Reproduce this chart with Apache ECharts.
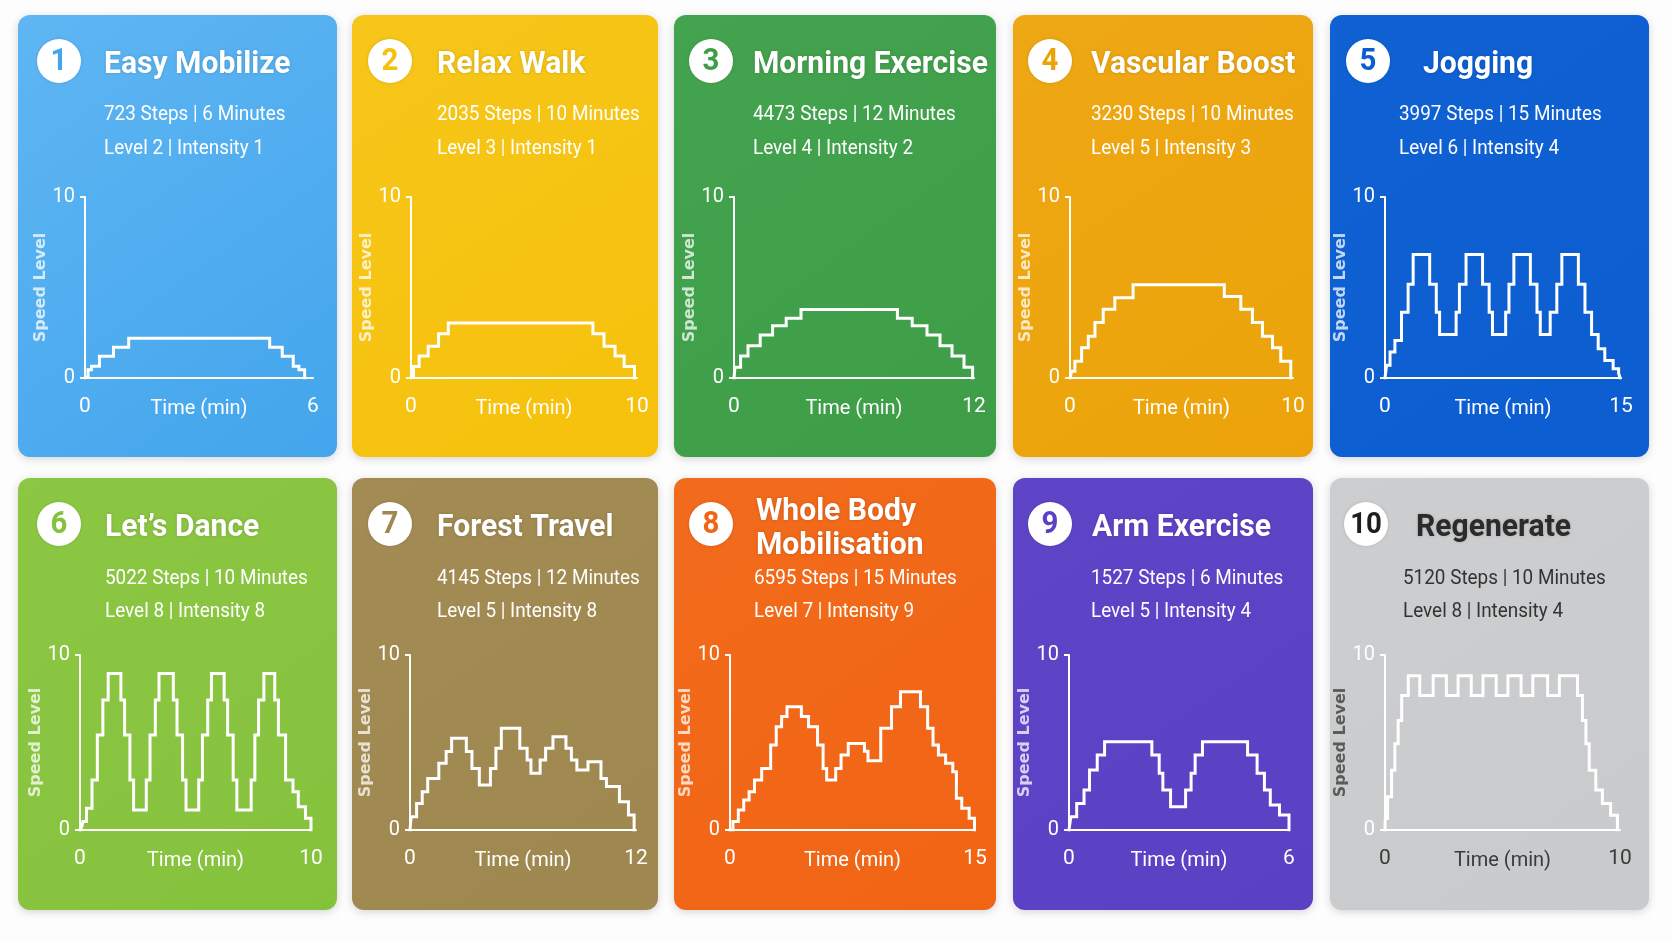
<!DOCTYPE html>
<html><head><meta charset="utf-8">
<script src="https://cdn.jsdelivr.net/npm/echarts@6/dist/echarts.min.js"></script>
<style>html,body{margin:0;padding:0;background:#fdfdfd;}#c{width:1672px;height:941px;}</style>
</head><body><div id="c"></div><script>
// ---------- data ----------
const titles = ['Easy Mobilize','Relax Walk','Morning Exercise','Vascular Boost','Jogging','Let\u2019s Dance','Forest Travel','Whole Body\nMobilisation','Arm Exercise','Regenerate'];
const stepCounts = [723, 2035, 4473, 3230, 3997, 5022, 4145, 6595, 1527, 5120];
const minutes = [6, 10, 12, 10, 15, 10, 12, 15, 6, 10];
const levels = [2, 3, 4, 5, 6, 8, 5, 7, 5, 8];
const intensities = [1, 1, 2, 3, 4, 8, 8, 9, 4, 4];
const yTicks = [0, 10];

// speed profiles: speed[i] holds from time[i] until time[i+1]
const easyMobilizeTime  = [0.02, 0.08, 0.17, 0.38, 0.75, 1.15, 4.86, 5.19, 5.48, 5.63, 5.78];
const easyMobilizeSpeed = [0.1, 0.45, 0.65, 1.2, 1.7, 2.2, 1.7, 1.2, 0.65, 0.45, 0];
const relaxWalkTime  = [0.02, 0.11, 0.36, 0.76, 1.22, 1.65, 8.05, 8.54, 9.03, 9.43, 9.89];
const relaxWalkSpeed = [0.1, 0.64, 1.22, 1.76, 2.45, 3.04, 2.45, 1.76, 1.22, 0.64, 0];
const morningTime  = [0.05, 0.33, 0.70, 1.31, 1.93, 2.61, 3.35, 8.17, 8.91, 9.65, 10.3, 10.9, 11.5, 11.93];
const morningSpeed = [0.6, 1.22, 1.78, 2.38, 2.88, 3.3, 3.78, 3.3, 2.88, 2.38, 1.78, 1.22, 0.6, 0];
const vascularTime  = [0.07, 0.22, 0.52, 0.82, 1.12, 1.49, 2.01, 2.83, 6.92, 7.66, 8.18, 8.63, 9.08, 9.45, 9.9];
const vascularSpeed = [0.37, 0.93, 1.67, 2.31, 3.06, 3.8, 4.44, 5.15, 4.5, 3.8, 3.06, 2.31, 1.67, 0.93, 0];
const joggingTime  = [0.1, 0.32, 0.63, 1.05, 1.47, 1.79, 2.84, 3.26, 3.47, 4.52, 4.73, 5.15, 6.2, 6.62, 6.83, 7.67, 7.88, 8.19, 9.24, 9.66, 9.87, 10.5, 10.92, 11.24, 12.29, 12.71, 13.13, 13.55, 13.97, 14.5, 14.85, 14.95];
const joggingSpeed = [0.7, 1.43, 2.07, 3.63, 5.18, 6.83, 5.18, 3.63, 2.4, 3.63, 5.18, 6.83, 5.18, 3.63, 2.4, 3.63, 5.18, 6.83, 5.18, 3.63, 2.4, 3.63, 5.18, 6.83, 5.18, 3.63, 2.4, 1.61, 0.97, 0.51, 0.25, 0];
const danceTime  = [0.08, 0.13, 0.28, 0.52, 0.75, 0.99, 1.22, 1.77, 1.93, 2.16, 2.32, 2.87, 3.03, 3.26, 3.42, 4.04, 4.2, 4.44, 4.59, 5.14, 5.3, 5.53, 5.69, 6.24, 6.39, 6.63, 6.79, 7.41, 7.57, 7.73, 7.96, 8.43, 8.59, 8.9, 9.22, 9.45, 9.76, 10];
const danceSpeed = [0.2, 0.48, 1.24, 2.86, 5.43, 7.43, 8.95, 7.43, 5.43, 2.86, 1.14, 2.86, 5.43, 7.43, 8.95, 7.43, 5.43, 2.86, 1.14, 2.86, 5.43, 7.43, 8.95, 7.43, 5.43, 2.86, 1.14, 2.86, 5.43, 7.43, 8.95, 7.43, 5.43, 2.86, 2.19, 1.33, 0.67, 0];
const forestTime  = [0.06, 0.35, 0.65, 0.94, 1.53, 1.92, 2.21, 2.99, 3.29, 3.68, 4.27, 4.56, 4.85, 5.83, 6.22, 6.42, 6.91, 7.2, 7.59, 8.28, 8.57, 8.86, 9.45, 10.14, 10.43, 11.12, 11.6, 11.9];
const forestSpeed = [0.76, 1.52, 2.19, 2.95, 3.81, 4.48, 5.24, 4.48, 3.52, 2.57, 3.52, 4.67, 5.81, 4.67, 4.0, 3.24, 4.0, 4.67, 5.33, 4.67, 4.0, 3.43, 3.9, 2.95, 2.48, 1.62, 0.86, 0];
const wholeBodyTime  = [0.18, 0.51, 0.84, 1.17, 1.5, 1.94, 2.49, 2.83, 3.16, 3.49, 4.37, 4.81, 5.36, 5.7, 5.92, 6.47, 6.8, 7.24, 8.23, 8.45, 9.23, 9.89, 10.44, 11.66, 12.1, 12.43, 12.76, 13.2, 13.64, 13.86, 14.19, 14.64, 14.97];
const wholeBodySpeed = [0.48, 1.14, 1.71, 2.19, 2.86, 3.52, 4.86, 5.9, 6.48, 7.05, 6.48, 5.9, 4.86, 3.52, 2.86, 3.52, 4.29, 4.95, 4.5, 3.96, 5.81, 7.05, 7.9, 7.05, 5.81, 4.86, 4.29, 3.81, 3.33, 1.81, 1.24, 0.67, 0];
const armTime  = [0.05, 0.21, 0.41, 0.56, 0.77, 0.97, 2.26, 2.46, 2.56, 2.77, 3.18, 3.33, 3.44, 3.64, 4.87, 5.13, 5.33, 5.49, 5.74, 6];
const armSpeed = [0.76, 1.52, 2.29, 3.43, 4.29, 5.05, 4.29, 3.24, 2.29, 1.33, 2.29, 3.24, 4.29, 5.05, 4.29, 3.24, 2.29, 1.43, 0.86, 0];
const regenTime  = [0.01, 0.11, 0.28, 0.42, 0.56, 0.71, 0.99, 1.48, 2.05, 2.61, 3.11, 3.67, 4.17, 4.73, 5.23, 5.79, 6.29, 6.92, 7.42, 8.19, 8.4, 8.55, 8.69, 8.97, 9.25, 9.6, 9.89];
const regenSpeed = [0.66, 1.9, 3.42, 4.93, 6.26, 7.69, 8.82, 7.69, 8.82, 7.69, 8.82, 7.69, 8.82, 7.69, 8.82, 7.69, 8.82, 7.69, 8.82, 7.69, 6.26, 4.93, 3.42, 2.28, 1.52, 0.85, 0];

const profileTimes  = [easyMobilizeTime, relaxWalkTime, morningTime, vascularTime, joggingTime, danceTime, forestTime, wholeBodyTime, armTime, regenTime];
const profileSpeeds = [easyMobilizeSpeed, relaxWalkSpeed, morningSpeed, vascularSpeed, joggingSpeed, danceSpeed, forestSpeed, wholeBodySpeed, armSpeed, regenSpeed];

// ---------- styles / layout ----------
const cardColors = ['#43a5ec','#f5c10b','#3e9e48','#eca30a','#0b5dd0','#85c23c','#9f8750','#f16414','#5a40c3','#c9cacc'];
const cardLight  = ['#5fb6f3','#f7c61a','#44a34e','#eea814','#0f61d4','#8cc744','#a38b54','#f26b1c','#5e45c7','#cdcecf'];
const cardBoxes = [[18,15,319,442],[352,15,306,442],[674,15,322,442],[1013,15,300,442],[1330,15,319,442],
                   [18,478,319,432],[352,478,306,432],[674,478,322,432],[1013,478,300,432],[1330,478,319,432]];
const circleCenters = [[59,61],[390,61],[711,61],[1050,61],[1368,61],[59,524],[390,524],[711,524],[1050,524],[1366,524]];
const titleX = [104,437,753,1091,1423,105,437,756,1092,1416];
const subX   = [104,437,753,1091,1399,105,437,754,1091,1403];
const gridBoxes = [[85,197,228,181],[411,197,226,181],[734,197,240,181],[1070,197,223,181],[1385,197,236,181],
                   [80,655,231,175],[410,655,226,175],[730,655,245,175],[1069,655,220,175],[1385,655,235,175]];
const FONT = 'Roboto,"Noto Sans",sans-serif';

const chart = echarts.init(document.getElementById('c'), null, {renderer:'canvas'});
const graphic = [], grid = [], xAxis = [], yAxis = [], series = [];

titles.forEach((title, i) => {
  const [bx, by, bw, bh] = cardBoxes[i];
  const dark = i === 9;
  const txt = dark ? '#2b2b2b' : '#ffffff';
  const subTxt = dark ? '#333333' : '#ffffff';
  const row2 = i >= 5;
  graphic.push({type:'rect', z:-10, shape:{x:bx, y:by, width:bw, height:bh, r:12},
    style:{fill:new echarts.graphic.LinearGradient(0,0,1,1,[{offset:0,color:cardLight[i]},{offset:1,color:cardColors[i]}]),
      shadowBlur:8, shadowOffsetY:2, shadowColor:'rgba(0,0,0,0.16)'}});
  const [cx, cy] = circleCenters[i];
  graphic.push({type:'circle', z:5, shape:{cx, cy, r:22}, style:{fill:'#ffffff', shadowBlur:3, shadowColor:'rgba(0,0,0,0.15)'}});
  graphic.push({type:'text', z:6, x:cx, y:cy+1, scaleX:0.92, style:{text:String(i+1), fill: dark ? '#1e1e1e' : cardColors[i],
    font:'bold ' + (i === 9 ? 30 : 32) + 'px ' + FONT, align:'center', verticalAlign:'middle'}});
  const ty = row2 ? (i === 7 ? 529 : 528) : 65;
  graphic.push({type:'text', z:6, x:titleX[i], y:ty, scaleX:0.94, style:{text:title, fill:txt, font:'bold 32px ' + FONT,
    lineHeight:34, align:'left', verticalAlign:'middle', textShadowBlur:3, textShadowColor:'rgba(0,0,0,0.18)'}});
  const s1 = row2 ? 579 : 115, s2 = row2 ? 612 : 149;
  graphic.push({type:'text', z:6, x:subX[i], y:s1, scaleX:0.9, style:{text: stepCounts[i] + ' Steps | ' + minutes[i] + ' Minutes',
    fill:subTxt, font:'21px ' + FONT, align:'left', verticalAlign:'middle'}});
  graphic.push({type:'text', z:6, x:subX[i], y:s2, scaleX:0.9, style:{text: 'Level ' + levels[i] + ' | Intensity ' + intensities[i],
    fill:subTxt, font:'21px ' + FONT, align:'left', verticalAlign:'middle'}});

  const [gl, gt, gw, gh] = gridBoxes[i];
  grid.push({left:gl, top:gt, width:gw, height:gh, containLabel:false});
  const axisCol = '#ffffff';
  const lblCol = dark ? '#3a3a3a' : '#ffffff';
  xAxis.push({type:'value', gridIndex:i, min:0, max:minutes[i], interval:minutes[i],
    name:'Time (min)', nameLocation:'middle', nameGap:21, nameMoveOverlap:false,
    nameTextStyle:{color:lblCol, fontSize:20, fontFamily:FONT, verticalAlign:'top'},
    axisLine:{show:true, onZero:false, lineStyle:{color:axisCol, width:2}},
    axisTick:{show:false}, splitLine:{show:false},
    axisLabel:{color:lblCol, fontSize:21, fontFamily:FONT, margin:18}});
  yAxis.push({type:'value', gridIndex:i, min:yTicks[0], max:yTicks[1], interval:yTicks[1],
    name:'Speed Level', nameLocation:'middle', nameGap:44, nameRotate:90, nameMoveOverlap:false,
    nameTextStyle:{color: dark ? 'rgba(70,70,70,0.85)' : 'rgba(255,255,255,0.75)', fontSize:16, fontWeight:'bold',
      fontFamily:'"DejaVu Sans",sans-serif', verticalAlign:'middle'},
    axisLine:{show:true, lineStyle:{color:axisCol, width:2}},
    axisTick:{show:true, length:5, lineStyle:{color:axisCol, width:2}},
    splitLine:{show:false},
    axisLabel:{fontSize:20, fontFamily:FONT, margin:10,
      color:(v) => (dark && v === 0) ? '#3a3a3a' : '#ffffff'}});
  const data = [[0, 0]];
  profileTimes[i].forEach((t, k) => data.push([t, profileSpeeds[i][k]]));
  series.push({type:'line', xAxisIndex:i, yAxisIndex:i, step:'end', data, symbol:'none', silent:true,
    lineStyle:{color:'#ffffff', width:3, cap:'square', join:'miter'}, z:3});
});

chart.setOption({animation:false, backgroundColor:'#fdfdfd', graphic, grid, xAxis, yAxis, series});
</script></body></html>
